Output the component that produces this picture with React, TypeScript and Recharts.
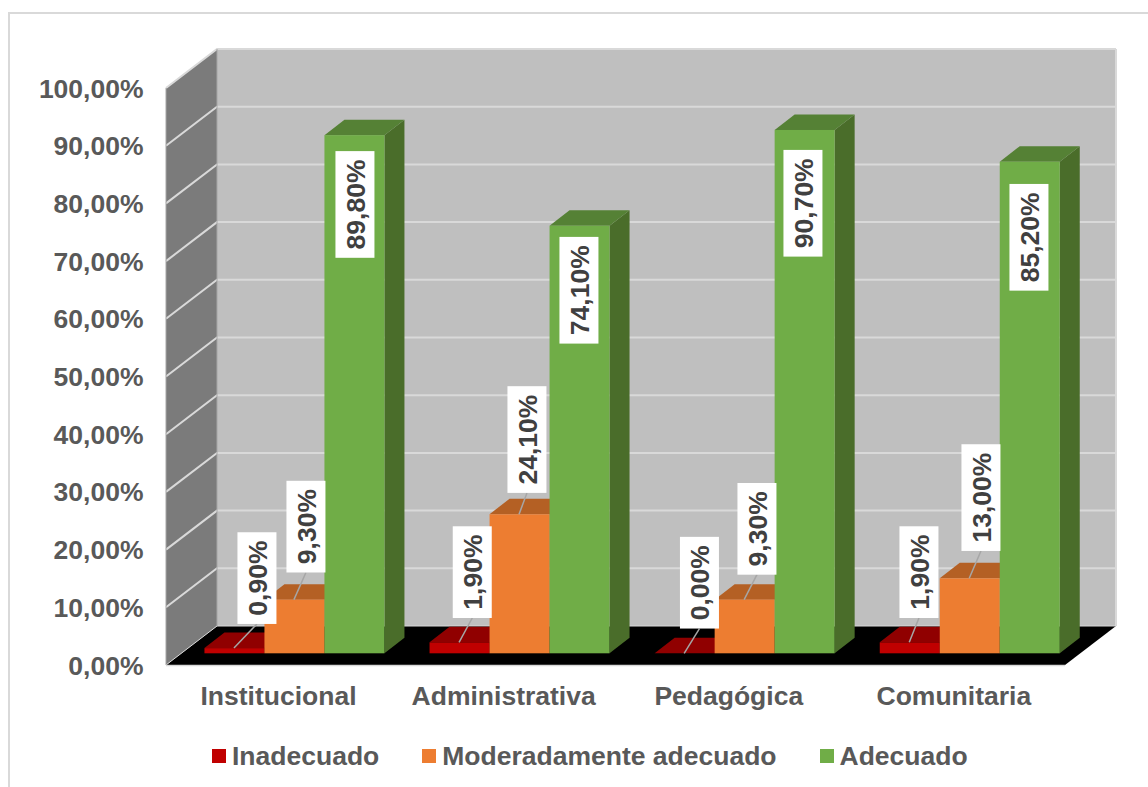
import { Bar, BarChart, LabelList, Legend, ReferenceArea, XAxis, YAxis } from "recharts";

const categories = ["Institucional", "Administrativa", "Pedagógica", "Comunitaria"];
const inadecuado = [0.9, 1.9, 0, 1.9];
const moderado = [9.3, 24.1, 9.3, 13];
const adecuado = [89.8, 74.1, 90.7, 85.2];
const yTicks = [0, 10, 20, 30, 40, 50, 60, 70, 80, 90, 100];

const data = categories.map((name, i) => ({
  name,
  inadecuado: inadecuado[i],
  moderado: moderado[i],
  adecuado: adecuado[i],
}));

// where Excel dragged each data label, box centre relative to the bar top centre
const redLabels = [[22.5, -70], [12.7, -70.2], [14.8, -70.6], [9.2, -70.2]];
const orangeLabels = [[11.5, -73], [7.4, -74.7], [12.3, -70.8], [11.2, -80.7]];
const greenLabels = [[0.5, 69.3], [-0.6, 64.5], [-1.7, 73.3], [-0.8, 75.6]];

const FONT = "'Liberation Sans', Arial, sans-serif";
const FONT_SIZE = 26.5;
const AXIS_COLOR = "#595959";
const GRID_COLOR = "#d9d9d9";

// bars stand a bit inside the floor, the walls are pushed out from them
const WALL_SHIFT_X = 15.45;
const WALL_SHIFT_Y = 11.7;
const WALL_TRIM = 1.4;
const DEPTH_X = 51;
const DEPTH_Y = 39;
const BAR_DEPTH_X = 20;
const BAR_DEPTH_Y = 15.5;

const pct = (v: number) => `${v.toFixed(2).replace(".", ",")}%`;

function Walls({ x, y, width, height }: any) {
  const left = x - WALL_SHIFT_X;
  const wallWidth = width - WALL_TRIM;
  const right = left + wallWidth;
  const top = y + WALL_SHIFT_Y;
  const bottom = top + height;
  const poly = (pts: number[][]) => pts.map((p) => p.join(",")).join(" ");
  return (
    <g>
      <polygon
        points={poly([[left, top], [left + DEPTH_X, top - DEPTH_Y], [left + DEPTH_X, bottom - DEPTH_Y], [left, bottom]])}
        fill="#7b7b7b"
      />
      <rect x={left + DEPTH_X} y={top - DEPTH_Y} width={wallWidth} height={height} fill="#bfbfbf" />
      <polygon
        points={poly([[left, bottom], [left + DEPTH_X, bottom - DEPTH_Y], [right + DEPTH_X, bottom - DEPTH_Y], [right, bottom]])}
        fill="#000000"
      />
      {yTicks.map((t) => {
        const ty = bottom - (height * t) / 100;
        return (
          <polyline
            key={t}
            points={poly([[left, ty], [left + DEPTH_X, ty - DEPTH_Y], [right + DEPTH_X, ty - DEPTH_Y]])}
            fill="none"
            stroke={GRID_COLOR}
            strokeWidth={t === 0 ? 1 : 2}
          />
        );
      })}
      <line x1={left} y1={bottom + 0.5} x2={right} y2={bottom + 0.5} stroke={GRID_COLOR} strokeWidth={1.5} />
      <line x1={left} y1={top} x2={left} y2={bottom} stroke="#a6a6a6" strokeWidth={1} />
      <line x1={left + DEPTH_X} y1={top - DEPTH_Y} x2={left + DEPTH_X} y2={bottom - DEPTH_Y} stroke="#a6a6a6" strokeWidth={1} />
      <line x1={right + DEPTH_X} y1={top - DEPTH_Y} x2={right + DEPTH_X} y2={bottom - DEPTH_Y} stroke={GRID_COLOR} strokeWidth={2} />
    </g>
  );
}

function makeBar3D(front: string, topFace: string, sideFace: string) {
  return function Bar3D({ x, y, width, height }: any) {
    const dx = BAR_DEPTH_X;
    const dy = BAR_DEPTH_Y;
    return (
      <g>
        <polygon
          points={`${x + width},${y} ${x + width + dx},${y - dy} ${x + width + dx},${y + height - dy} ${x + width},${y + height}`}
          fill={sideFace}
        />
        <polygon
          points={`${x},${y} ${x + dx},${y - dy} ${x + width + dx},${y - dy} ${x + width},${y}`}
          fill={topFace}
        />
        <rect x={x} y={y} width={width} height={height} fill={front} />
      </g>
    );
  };
}

function makeLabel(offsets: number[][]) {
  return function DataLabel({ x, y, width, value, index }: any) {
    const [dx, dy] = offsets[index];
    const cx = x + width / 2;
    const bx = cx + dx;
    const by = y + dy;
    const text = pct(value);
    const boxH = text.length === 5 ? 91.7 : 106.7;
    return (
      <g>
        {dy < 0 && <line x1={cx - 0.5} y1={y} x2={bx} y2={by + boxH / 2} stroke="#a6a6a6" strokeWidth={1.5} />}
        <rect x={bx - 19.5} y={by - boxH / 2} width={39} height={boxH} fill="#ffffff" />
        <text
          transform={`translate(${bx + 10},${by}) rotate(-90)`}
          textAnchor="middle"
          fontFamily={FONT}
          fontWeight="bold"
          fontSize={FONT_SIZE}
          fill="#404040"
        >
          {text}
        </text>
      </g>
    );
  };
}

function YTick({ y, payload }: any) {
  return (
    <text x={143.5} y={y + 21.2} textAnchor="end" fontFamily={FONT} fontWeight="bold" fontSize={FONT_SIZE} fill={AXIS_COLOR}>
      {pct(payload.value)}
    </text>
  );
}

function XTick({ x, payload }: any) {
  return (
    <text x={x - WALL_SHIFT_X} y={705} textAnchor="middle" fontFamily={FONT} fontWeight="bold" fontSize={FONT_SIZE} fill={AXIS_COLOR}>
      {payload.value}
    </text>
  );
}

function LegendRow({ payload }: any) {
  return (
    <div style={{ display: "flex", height: 0, paddingLeft: 212, fontFamily: FONT, fontWeight: "bold", fontSize: FONT_SIZE, color: AXIS_COLOR }}>
      {(payload || []).map((item: any) => (
        <div key={item.value} style={{ display: "flex", alignItems: "center", marginRight: 43, height: 36 }}>
          <span style={{ width: 14, height: 14, background: item.color, marginRight: 6 }} />
          <span style={{ whiteSpace: "nowrap" }}>{item.value}</span>
        </div>
      ))}
    </div>
  );
}

export default function App() {
  return (
    <div style={{ position: "absolute", left: 0, top: 0, width: 1148, height: 787, overflow: "hidden", background: "#fff" }}>
      <div
        style={{
          position: "absolute",
          left: 8,
          top: 12,
          width: 1300,
          height: 900,
          border: `2px solid ${GRID_COLOR}`,
        }}
      />
      <div style={{ position: "absolute", left: 0, top: 0 }}>
        <BarChart
          width={1148}
          height={787}
          data={data}
          barSize={60}
          barGap={0}
          margin={{ top: 76.3, right: 66.15, bottom: 73.7, left: 121.45 }}
        >
          <XAxis dataKey="name" height={60} axisLine={false} tickLine={false} tick={<XTick />} interval={0} />
          <YAxis width={60} domain={[0, 100]} ticks={yTicks} axisLine={false} tickLine={false} tick={<YTick />} />
          <ReferenceArea y1={0} y2={100} shape={<Walls />} />
          <Bar
            dataKey="inadecuado"
            name="Inadecuado"
            fill="#c00000"
            isAnimationActive={false}
            shape={makeBar3D("#c00000", "#900000", "#800000")}
          >
            <LabelList dataKey="inadecuado" content={makeLabel(redLabels)} />
          </Bar>
          <Bar
            dataKey="moderado"
            name="Moderadamente adecuado"
            fill="#ed7d31"
            isAnimationActive={false}
            shape={makeBar3D("#ed7d31", "#b46024", "#a65a22")}
          >
            <LabelList dataKey="moderado" content={makeLabel(orangeLabels)} />
          </Bar>
          <Bar
            dataKey="adecuado"
            name="Adecuado"
            fill="#70ad47"
            isAnimationActive={false}
            shape={makeBar3D("#70ad47", "#558135", "#4a6d2a")}
          >
            <LabelList dataKey="adecuado" content={makeLabel(greenLabels)} />
          </Bar>
          <Legend
            content={<LegendRow />}
            itemSorter={null}
            wrapperStyle={{ position: "absolute", left: 0, top: 738, width: 1148, height: 0 }}
          />
        </BarChart>
      </div>
    </div>
  );
}
